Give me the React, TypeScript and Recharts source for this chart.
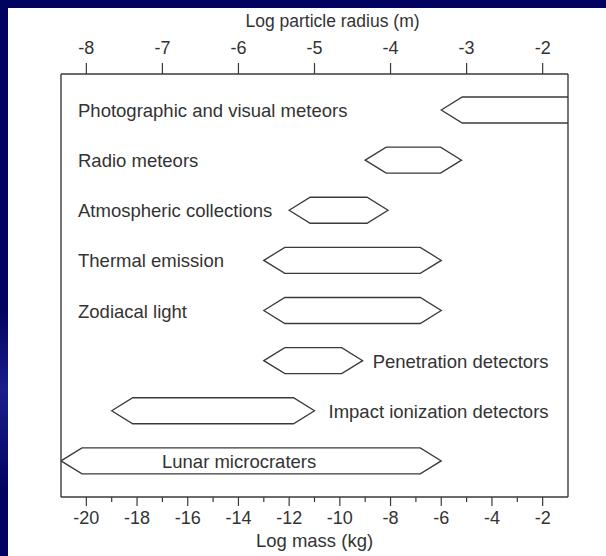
import { Bar, ComposedChart, Label, XAxis, YAxis } from "recharts";

// measurement techniques, top to bottom
const techniques = [
  "Photographic and visual meteors",
  "Radio meteors",
  "Atmospheric collections",
  "Thermal emission",
  "Zodiacal light",
  "Penetration detectors",
  "Impact ionization detectors",
  "Lunar microcraters",
];

// log mass (kg) range covered by each technique
const massFrom = [-6, -9, -12, -13, -13, -13, -19, -21];
const massTo = [0, -5.2, -8.1, -6, -6, -9.1, -11, -6];

const massTicks = [-20, -19, -18, -17, -16, -15, -14, -13, -12, -11, -10, -9, -8, -7, -6, -5, -4, -3, -2];
const radiusTicks = [-8, -7, -6, -5, -4, -3, -2];

// where the name sits relative to its bar
const labelSide = ["left", "left", "left", "left", "left", "right", "right", "inside"];

const data = techniques.map((name, i) => ({ name, range: [massFrom[i], massTo[i]] }));

// log m = 3 log r + 4 for these grains
const massOfRadius = (r: number) => 3 * r + 4;

const INK = "#3a3a3a";
const TEXT = "#333";
const FONT = '"Liberation Sans", Arial, Helvetica, sans-serif';
const TIP = 21;

function Hexagon(props: any) {
  const { x, y, width, height, payload } = props;
  const i = techniques.indexOf(payload.name);
  const cy = y + height / 2;
  const pts = [
    [x, cy],
    [x + TIP, y],
    [x + width - TIP, y],
    [x + width, cy],
    [x + width - TIP, y + height],
    [x + TIP, y + height],
  ]
    .map((p) => p.join(","))
    .join(" ");
  const side = labelSide[i];
  let tx = 78;
  if (side === "right") tx = x + width + (i === 6 ? 14 : 10);
  if (side === "inside") tx = x + 101;
  return (
    <g>
      <polygon points={pts} fill="#fff" stroke={INK} strokeWidth={1.3} />
      <text x={tx} y={cy + 7} fontSize={18.5} fill={TEXT} fontFamily={FONT}>
        {payload.name}
      </text>
    </g>
  );
}

function MassTick(props: any) {
  const { x, y, payload } = props;
  const v = payload.value;
  const major = v % 2 === 0;
  return (
    <g>
      <line x1={x} x2={x} y1={y} y2={y + (major ? 9 : 5)} stroke={INK} strokeWidth={1.2} />
      {major && (
        <text x={x} y={y + 27} textAnchor="middle" fontSize={18} fill={TEXT} fontFamily={FONT}>
          {String(v)}
        </text>
      )}
    </g>
  );
}

function RadiusTick(props: any) {
  const { x, y, payload } = props;
  const r = Math.round((payload.value - 4) / 3);
  return (
    <g>
      <line x1={x} x2={x} y1={y} y2={y - 11} stroke={INK} strokeWidth={1.2} />
      <text x={x} y={y - 20} textAnchor="middle" fontSize={18} fill={TEXT} fontFamily={FONT}>
        {String(r)}
      </text>
    </g>
  );
}

const frameLine = { stroke: INK, strokeWidth: 1.4 };

export default function App() {
  return (
    <div style={{ position: "absolute", left: 0, top: 0, width: 606, height: 556, background: "#020260", overflow: "hidden" }}>
      <div
        style={{
          position: "absolute",
          left: 0,
          top: 310,
          width: 8,
          height: 180,
          background: "linear-gradient(#020260, #1a1f8c 45%, #020260)",
        }}
      />
      <div style={{ position: "absolute", left: 8, top: 8, width: 598, height: 548, background: "#fff" }} />
      <div style={{ position: "absolute", left: 0, top: 0 }}>
        <ComposedChart
          layout="vertical"
          width={606}
          height={556}
          data={data}
          margin={{ top: 0, right: 37, bottom: 0, left: 60 }}
          style={{ fontFamily: FONT }}
        >
          <XAxis
            type="number"
            domain={[-21, -1]}
            allowDataOverflow
            ticks={massTicks}
            interval={0}
            height={59}
            tick={<MassTick />}
            tickSize={0}
            tickMargin={0}
            axisLine={frameLine}
            tickLine={false}
          >
            <Label
              content={({ viewBox }: any) => (
                <text
                  x={viewBox.x + viewBox.width / 2}
                  y={viewBox.y + 49.5}
                  textAnchor="middle"
                  fontSize={18.5}
                  fill={TEXT}
                  fontFamily={FONT}
                >
                  Log mass (kg)
                </text>
              )}
            />
          </XAxis>
          <XAxis
            xAxisId="top"
            orientation="top"
            type="number"
            domain={[-21, -1]}
            allowDataOverflow
            ticks={radiusTicks.map(massOfRadius)}
            interval={0}
            height={74}
            tick={<RadiusTick />}
            tickSize={0}
            tickMargin={0}
            axisLine={frameLine}
            tickLine={false}
          >
            <Label
              content={({ viewBox }: any) => (
                <text
                  x={viewBox.x + viewBox.width / 2 + 18}
                  y={viewBox.y + 26.5}
                  textAnchor="middle"
                  fontSize={17.5}
                  fill={TEXT}
                  fontFamily={FONT}
                >
                  Log particle radius (m)
                </text>
              )}
            />
          </XAxis>
          <YAxis
            type="category"
            dataKey="name"
            width={1}
            tick={false}
            tickLine={false}
            axisLine={frameLine}
            padding={{ top: 11, bottom: 11 }}
          />
          <YAxis
            yAxisId="right"
            orientation="right"
            type="category"
            dataKey="name"
            width={1}
            tick={false}
            tickLine={false}
            axisLine={frameLine}
          />
          <Bar dataKey="range" barSize={26} shape={<Hexagon />} isAnimationActive={false} />
        </ComposedChart>
      </div>
    </div>
  );
}
